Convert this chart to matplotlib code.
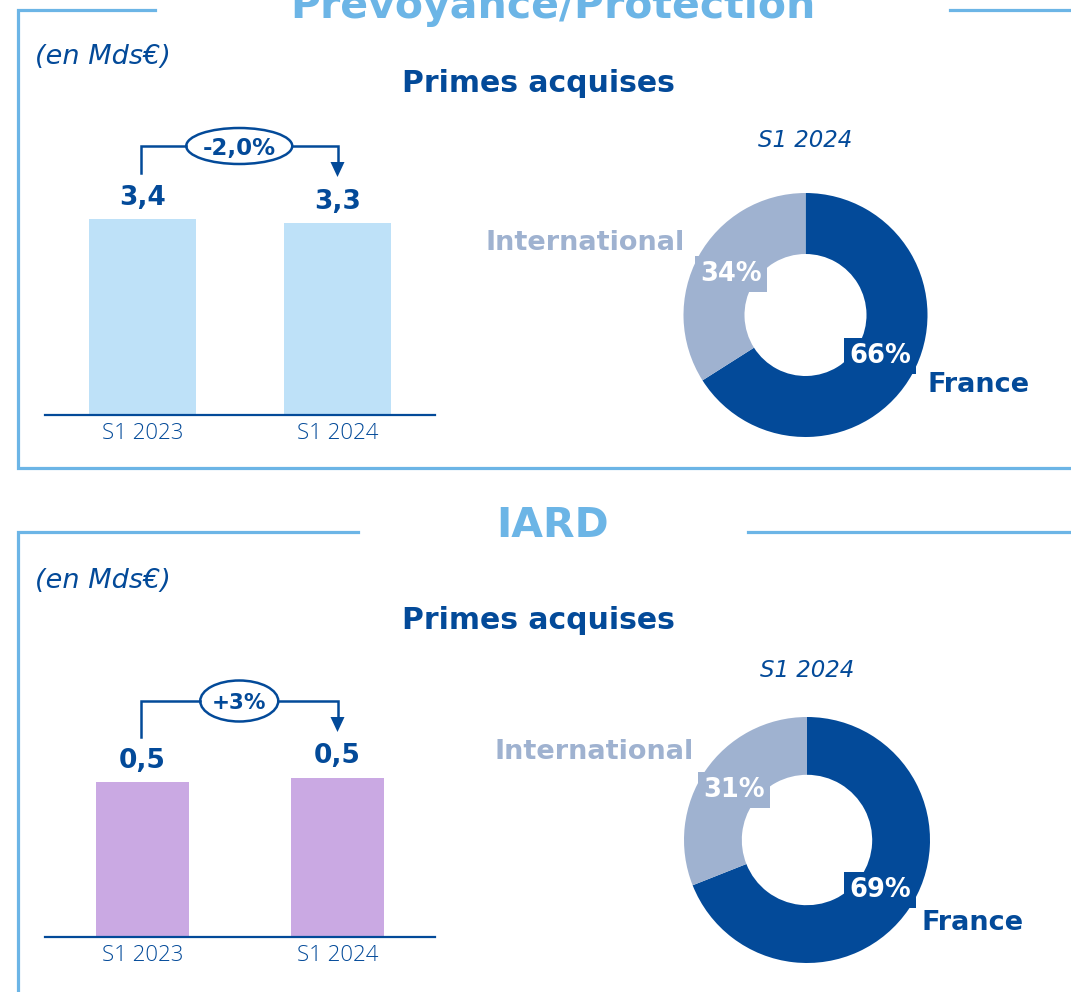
import matplotlib.pyplot as plt
from matplotlib.patches import Ellipse

# data
sections = ["Prévoyance/Protection", "IARD"]
periods = ["S1 2023", "S1 2024"]
prev_primes = [3.37, 3.30]
iard_primes = [0.49, 0.503]
changes = ["-2,0%", "+3%"]
mix_labels = ["France", "International"]
prev_mix = [66, 34]
iard_mix = [69, 31]
pie_period = "S1 2024"
unit = "(en Mds€)"
subtitle = "Primes acquises"

DARK = "#034A99"
LIGHT = "#9FB2D0"
FRAME = "#6CB5E6"
bar_colors = ["#BEE1F8", "#CAA9E3"]

W, H = 1071, 992
fig = plt.figure(figsize=(W / 100, H / 100), dpi=100)


def px_axes(x0, y0, x1, y1):
    return fig.add_axes([x0 / W, 1 - y1 / H, (x1 - x0) / W, (y1 - y0) / H])


bg = px_axes(0, 0, W, H)
bg.set_xlim(0, W)
bg.set_ylim(H, 0)
bg.axis("off")

# layout of each panel in pixels
panels = [
    dict(frame_y=9.5, gap=(155, 950), frame_bottom=468, title_base=18,
         unit_base=64, primes_base=92, s1_base=147, axis_y=415, bar_w=0.55,
         ytop=5.16, br_y=146, br_y0=173, br_tip=177, ew=106, eh=36, fs=16.5,
         pie_c=(805.5, 315), R=122, ring=0.5, pctd=0.70,
         intl_pos=(-0.988, 0.59), fr_pos=(0.996, -0.574)),
    dict(frame_y=531.5, gap=(358, 748), frame_bottom=None, title_base=537,
         unit_base=588, primes_base=629, s1_base=677, axis_y=937, bar_w=0.48,
         ytop=0.948, br_y=701, br_y0=737, br_tip=732, ew=78, eh=41, fs=15.5,
         pie_c=(807, 840), R=123, ring=0.47, pctd=0.72,
         intl_pos=(-0.919, 0.715), fr_pos=(0.927, -0.675)),
]
bar_data = [prev_primes, iard_primes]
pie_data = [prev_mix, iard_mix]

for i, p in enumerate(panels):
    # frame
    fy = p["frame_y"]
    if p["frame_bottom"]:
        bg.plot([p["gap"][0], 17.5, 17.5, W], [fy, fy, p["frame_bottom"], p["frame_bottom"]],
                color=FRAME, lw=2.3, solid_joinstyle="miter")
    else:
        bg.plot([p["gap"][0], 17.5, 17.5], [fy, fy, H], color=FRAME, lw=2.3,
                solid_joinstyle="miter")
    bg.plot([p["gap"][1], W], [fy, fy], color=FRAME, lw=2.3)
    bg.text(553, p["title_base"], sections[i], color=FRAME, fontsize=29.5,
            fontweight="bold", ha="center", va="baseline")

    bg.text(35, p["unit_base"], unit, color=DARK, fontsize=19.5, style="italic",
            va="baseline")
    bg.text(538, p["primes_base"], subtitle, color=DARK, fontsize=21.5,
            fontweight="bold", ha="center", va="baseline")
    bg.text(p["pie_c"][0], p["s1_base"], pie_period, color=DARK, fontsize=16.5,
            style="italic", ha="center", va="baseline")

    # bars
    ax = px_axes(45, p["axis_y"] - 300, 435, p["axis_y"])
    ax.patch.set_alpha(0)
    vals = bar_data[i]
    xs = range(len(periods))
    ax.bar(xs, vals, width=p["bar_w"], color=bar_colors[i])
    for x, v in zip(xs, vals):
        ax.annotate(f"{v:.1f}".replace(".", ","), (x, v), xytext=(0, 6),
                    textcoords="offset points", ha="center", va="bottom",
                    fontsize=19, fontweight="bold", color=DARK)
    ax.set_xlim(-0.5, 1.5)
    ax.set_ylim(0, p["ytop"])
    ax.set_xticks(list(xs))
    ax.set_xticklabels(periods, fontsize=16, color=DARK, family="Open Sans",
                       fontweight="light")
    ax.tick_params(axis="x", length=0, pad=6)
    ax.set_yticks([])
    for s in ["top", "left", "right"]:
        ax.spines[s].set_visible(False)
    ax.spines["bottom"].set_color(DARK)
    ax.spines["bottom"].set_linewidth(1.6)

    # change bracket
    xl, xr = 141, 337.5
    xm = (xl + xr) / 2
    by = p["br_y"]
    bg.plot([xl, xl, xm - p["ew"] / 2], [p["br_y0"], by, by], color=DARK, lw=1.8,
            solid_joinstyle="miter")
    bg.plot([xm + p["ew"] / 2, xr, xr], [by, by, p["br_tip"] - 14], color=DARK,
            lw=1.8, solid_joinstyle="miter")
    bg.fill([xr - 7, xr + 7, xr], [p["br_tip"] - 15, p["br_tip"] - 15, p["br_tip"]],
            color=DARK, lw=0)
    bg.add_patch(Ellipse((xm, by), p["ew"], p["eh"], facecolor="white",
                         edgecolor=DARK, lw=1.8))
    bg.text(xm, by, changes[i], ha="center", va="center_baseline",
            fontsize=p["fs"], fontweight="bold", color=DARK)

    # donut
    cx, cy = p["pie_c"]
    R = p["R"]
    pax = px_axes(cx - R, cy - R, cx + R, cy + R)
    wedges, _, autotexts = pax.pie(pie_data[i], colors=[DARK, LIGHT], startangle=90,
                                   counterclock=False, radius=1,
                                   autopct=lambda v: f"{v:.0f}%",
                                   pctdistance=p["pctd"],
                                   wedgeprops=dict(width=p["ring"], linewidth=0))
    for t, c in zip(autotexts, [DARK, LIGHT]):
        t.set_color("white")
        t.set_fontsize(18.5)
        t.set_fontweight("bold")
        t.set_bbox(dict(boxstyle="square,pad=0.2", facecolor=c, edgecolor="none"))
    pax.set_xlim(-1, 1)
    pax.set_ylim(-1, 1)
    pax.text(*p["fr_pos"], mix_labels[0], color=DARK, fontsize=19.5,
             fontweight="bold", ha="left", va="center")
    pax.text(*p["intl_pos"], mix_labels[1], color=LIGHT, fontsize=19.5,
             fontweight="bold", ha="right", va="center")

fig.savefig("out.png", dpi=100)
